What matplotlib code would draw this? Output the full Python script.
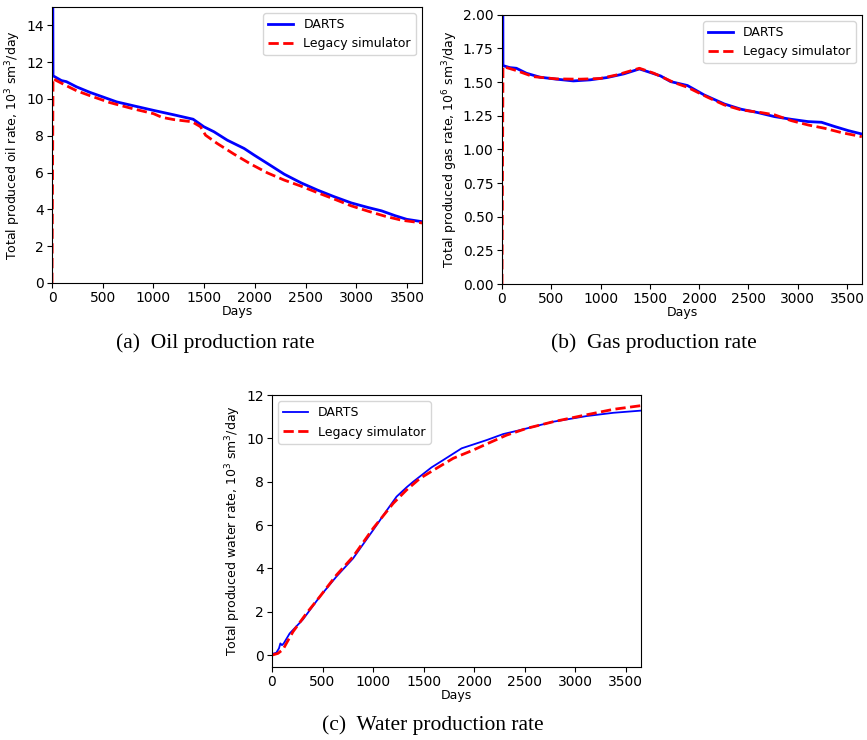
import numpy as np
import matplotlib.pyplot as plt

# oil rate, 10^3 sm3/day
oil_days_darts = [0, 10, 93, 142, 241, 373, 506, 638, 803, 1001, 1200, 1391, 1497, 1596, 1728,
                  1894, 1993, 2125, 2290, 2456, 2621, 2786, 2951, 3117, 3249, 3381, 3497, 3650]
oil_darts = [30, 11.26, 11.0, 10.94, 10.66, 10.36, 10.10, 9.84, 9.63, 9.38, 9.14, 8.90, 8.49, 8.22, 7.76,
             7.31, 6.95, 6.49, 5.91, 5.44, 5.04, 4.68, 4.35, 4.10, 3.92, 3.66, 3.46, 3.33]
oil_days_legacy = [0, 10, 43, 142, 241, 373, 572, 803, 1001, 1084, 1200, 1381, 1464, 1514, 1629,
                   1795, 1960, 2125, 2290, 2456, 2621, 2786, 2951, 3117, 3282, 3447, 3650]
oil_legacy = [0, 11.12, 11.0, 10.72, 10.45, 10.18, 9.80, 9.46, 9.20, 9.00, 8.88, 8.76, 8.49, 8.03, 7.58,
              7.00, 6.46, 5.98, 5.59, 5.26, 4.90, 4.55, 4.19, 3.90, 3.63, 3.41, 3.26]

# gas rate, 10^6 sm3/day
gas_days_darts = [0, 10, 78, 146, 248, 384, 554, 724, 894, 1065, 1235, 1394, 1507, 1609, 1711,
                  1881, 2051, 2255, 2425, 2595, 2765, 2935, 3105, 3241, 3377, 3513, 3650]
gas_darts = [5, 1.623, 1.608, 1.603, 1.566, 1.537, 1.522, 1.509, 1.517, 1.534, 1.561, 1.598, 1.571, 1.546, 1.504,
             1.475, 1.405, 1.338, 1.299, 1.274, 1.244, 1.224, 1.207, 1.202, 1.170, 1.140, 1.115]
gas_days_legacy = [0, 10, 146, 316, 554, 792, 996, 1167, 1394, 1541, 1745, 1881, 2085, 2255, 2425,
                   2629, 2765, 2935, 3105, 3275, 3445, 3650]
gas_legacy = [0, 1.616, 1.586, 1.541, 1.524, 1.522, 1.527, 1.554, 1.603, 1.566, 1.497, 1.462, 1.388, 1.331, 1.294,
              1.274, 1.257, 1.214, 1.182, 1.157, 1.125, 1.095]

# water rate, 10^3 sm3/day
wat_days_darts = [0, 43, 69, 83, 99, 116, 175, 307, 472, 637, 802, 1001, 1133, 1232, 1331, 1397,
                  1578, 1694, 1876, 2123, 2288, 2453, 2784, 3114, 3378, 3650]
wat_darts = [0.05, 0.11, 0.31, 0.54, 0.46, 0.54, 1.0, 1.65, 2.69, 3.62, 4.46, 5.77, 6.66, 7.31, 7.74, 8.0,
             8.66, 9.0, 9.54, 9.92, 10.2, 10.38, 10.77, 11.03, 11.18, 11.28]
wat_days_legacy = [0, 59, 109, 142, 208, 340, 472, 637, 802, 1001, 1199, 1331, 1463, 1628, 1793, 1991,
                   2123, 2321, 2519, 2784, 3114, 3378, 3650]
wat_legacy = [0, 0.08, 0.26, 0.54, 1.08, 1.92, 2.69, 3.69, 4.54, 5.85, 7.0, 7.62, 8.15, 8.62, 9.08, 9.46,
              9.74, 10.15, 10.46, 10.77, 11.09, 11.34, 11.51]

fs = 9
fig = plt.figure(figsize=(8.67, 7.4), dpi=100)

ax1 = fig.add_axes([0.060, 0.6176, 0.427, 0.373])
ax1.plot(oil_days_darts, oil_darts, "b-", lw=2, label="DARTS")
ax1.plot(oil_days_legacy, oil_legacy, "r--", lw=2, label="Legacy simulator")
ax1.set_xlim(0, 3650)
ax1.set_ylim(0, 15)
ax1.set_ylabel("Total produced oil rate, $10^3$ sm$^3$/day", fontsize=fs, labelpad=2)
ax1.legend(loc="upper right", fontsize=fs)

ax2 = fig.add_axes([0.579, 0.616, 0.415, 0.364])
ax2.plot(gas_days_darts, gas_darts, "b-", lw=2, label="DARTS")
ax2.plot(gas_days_legacy, gas_legacy, "r--", lw=2, label="Legacy simulator")
ax2.set_xlim(0, 3650)
ax2.set_ylim(0, 2)
ax2.set_ylabel("Total produced gas rate, $10^6$ sm$^3$/day", fontsize=fs, labelpad=2)
ax2.legend(loc="upper right", fontsize=fs)

ax3 = fig.add_axes([0.3137, 0.0986, 0.4256, 0.3676])
ax3.plot(wat_days_darts, wat_darts, "b-", lw=1.3, label="DARTS")
ax3.plot(wat_days_legacy, wat_legacy, "r--", lw=2, label="Legacy simulator")
ax3.set_xlim(0, 3650)
ax3.set_ylim(-0.55, 12)
ax3.set_ylabel("Total produced water rate, $10^3$ sm$^3$/day", fontsize=fs, labelpad=2)
ax3.legend(loc="upper left", fontsize=fs)

for ax in (ax1, ax2, ax3):
    ax.set_xlabel("Days", fontsize=fs, labelpad=0)
    ax.tick_params(labelsize=10, pad=2.5)

cap = dict(fontsize=15.5, family="Liberation Serif", ha="center", va="center")
fig.text(215 / 867, 1 - 343 / 740, "(a)  Oil production rate", **cap)
fig.text(654 / 867, 1 - 343 / 740, "(b)  Gas production rate", **cap)
fig.text(433 / 867, 1 - 725 / 740, "(c)  Water production rate", **cap)

fig.savefig("out.png", dpi=100)
